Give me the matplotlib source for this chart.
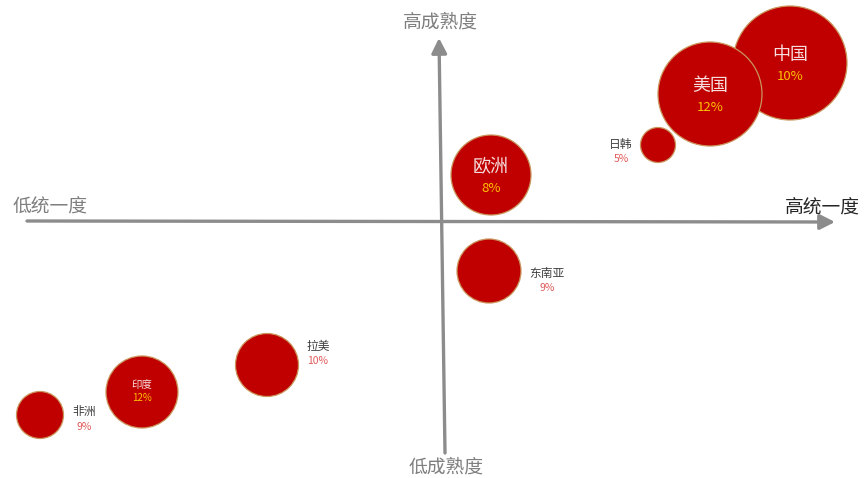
import matplotlib
matplotlib.use("Agg")
import matplotlib.pyplot as plt
from matplotlib.patches import Circle, FancyArrowPatch

plt.rcParams['font.family'] = ['Noto Sans CJK SC', 'DejaVu Sans']

# Markets on the unification (x) / maturity (y) plane
regions = ["中国", "美国", "日韩", "欧洲", "东南亚", "拉美", "印度", "非洲"]
unification = [348, 268, 216, 49, 47, -175, -300, -402]
maturity = [158, 127, 76, 46, -50, -144, -171, -194]
bubble_size = [57, 52, 17.5, 40, 32, 31.5, 36, 23.5]
growth_pct = [10, 12, 5, 8, 9, 10, 12, 9]
# label inside the bubble (True) or to its side (False)
inside = [True, True, False, True, False, False, True, False]

# offsets of side labels (name position relative to bubble centre)
side_offset = {"日韩": (-37, 1), "东南亚": (58, -2), "拉美": (51, 19), "非洲": (44, 3)}

fig = plt.figure(figsize=(8.67, 4.78), dpi=100)
ax = fig.add_axes([0, 0, 1, 1])
ax.set_xlim(-442, 425)
ax.set_ylim(-257, 221)
ax.set_aspect('equal')
ax.axis('off')

axis_gray = '#8c8c8c'
arrow = '-|>,head_length=0.75,head_width=0.38'
# horizontal axis
ax.add_patch(FancyArrowPatch((-415, 0), (393, -1), arrowstyle=arrow,
                             mutation_scale=12, color=axis_gray, lw=2.4, shrinkA=0, shrinkB=0))
# vertical axis
ax.add_patch(FancyArrowPatch((3, -232), (-3, 183), arrowstyle=arrow,
                             mutation_scale=12, color=axis_gray, lw=2.4, shrinkA=0, shrinkB=0))

ax.text(-392, 14, "低统一度", fontsize=13.5, color='#7f7f7f', ha='center', va='center')
ax.text(380, 14, "高统一度", fontsize=13.5, color='#262626', ha='center', va='center')
ax.text(-2, 199, "高成熟度", fontsize=13.5, color='#7f7f7f', ha='center', va='center')
ax.text(4, -246, "低成熟度", fontsize=13.5, color='#7f7f7f', ha='center', va='center')

for name, x, y, r, pct, ins in zip(regions, unification, maturity, bubble_size, growth_pct, inside):
    ax.add_patch(Circle((x, y), r, facecolor='#c00000', edgecolor='#c9955c', lw=0.9, zorder=3))
    if ins:
        if r > 38:
            fs_name, fs_pct, dy1, dy2 = 13, 9.5, 8, -13
        else:
            fs_name, fs_pct, dy1, dy2 = 7.5, 7, 7, -6
        ax.text(x, y + dy1, name, fontsize=fs_name, color='#f6dede', ha='center', va='center', zorder=4)
        ax.text(x, y + dy2, f"{pct}%", fontsize=fs_pct, color='#ffc000', ha='center', va='center', zorder=4)
    else:
        lx, ly = side_offset[name]
        ax.text(x + lx, y + ly, name, fontsize=8.5, color='#404040', ha='center', va='center', zorder=4)
        ax.text(x + lx, y + ly - 15, f"{pct}%", fontsize=7.5, color='#e05a5a', ha='center', va='center', zorder=4)

fig.savefig("out.png", dpi=100)
